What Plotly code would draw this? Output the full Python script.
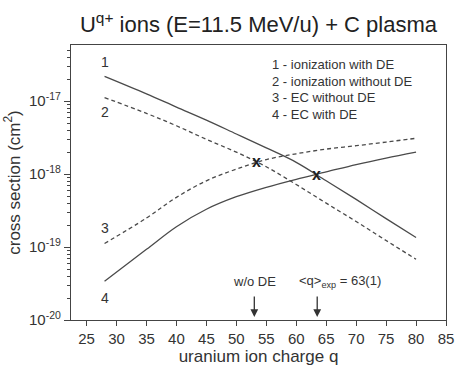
import math
import plotly.graph_objects as go

q = [28, 35, 40, 45, 50, 55, 60, 65, 70, 75, 80]
ion_with_de = [2.19e-17, 1.26e-17, 8.3e-18, 5.5e-18, 3.55e-18, 2.29e-18, 1.45e-18, 8.1e-19, 4.5e-19, 2.45e-19, 1.35e-19]
ion_without_de = [1.12e-17, 6.8e-18, 4.6e-18, 3.0e-18, 2.0e-18, 1.26e-18, 7.2e-19, 4.0e-19, 2.24e-19, 1.23e-19, 6.8e-20]
ec_without_de = [1.12e-19, 2.5e-19, 4.8e-19, 8.1e-19, 1.17e-18, 1.58e-18, 1.9e-18, 2.2e-18, 2.45e-18, 2.75e-18, 3.1e-18]
ec_with_de = [3.4e-20, 9.3e-20, 1.9e-19, 3.3e-19, 4.9e-19, 6.6e-19, 8.5e-19, 1.07e-18, 1.35e-18, 1.66e-18, 2.0e-18]

x_ticks = [25, 30, 35, 40, 45, 50, 55, 60, 65, 70, 75, 80, 85]
y_ticks = [1e-20, 1e-19, 1e-18, 1e-17]
y_ticktext = ["10<sup>-20</sup>", "10<sup>-19</sup>", "10<sup>-18</sup>", "10<sup>-17</sup>"]
legend_lines = ["1 - ionization with DE", "2 - ionization without DE", "3 - EC without DE", "4 - EC with DE"]
cross_points = [(53.3, 1.48e-18), (63.3, 1.0e-18)]
curve_labels = [("1", 28, 3.4e-17), ("2", 28, 7.1e-18), ("3", 28, 1.85e-19), ("4", 28, 2.0e-20)]
arrow_q = [53.0, 63.5]

LINE = "#4a4a4a"
TXT = "#333333"
FONT = "Liberation Sans, Arial, sans-serif"

fig = go.Figure()
for ys, dash in [(ion_with_de, "solid"), (ion_without_de, "4px,3px"),
                 (ec_without_de, "4px,3px"), (ec_with_de, "solid")]:
    fig.add_trace(go.Scatter(x=q, y=ys, mode="lines",
                             line=dict(color=LINE, width=1.3, dash=dash, shape="spline", smoothing=1.0),
                             showlegend=False, hoverinfo="skip"))

annotations = []
for i, t in enumerate(legend_lines):
    annotations.append(dict(x=0.53, y=0.93 - i * 0.061, xref="paper", yref="paper", text=t, showarrow=False,
                            xanchor="left", yanchor="middle", font=dict(size=13, color=TXT, family=FONT)))
for (cx, cy) in cross_points:
    annotations.append(dict(x=cx, y=math.log10(cy), xref="x", yref="y", text="<b>x</b>", showarrow=False,
                            xanchor="center", yanchor="middle", font=dict(size=16, color="#222", family=FONT)))
for (t, cx, cy) in curve_labels:
    annotations.append(dict(x=cx, y=math.log10(cy), xref="x", yref="y", text=t, showarrow=False,
                            xanchor="center", yanchor="middle", font=dict(size=14, color=TXT, family=FONT)))
for ax_q in arrow_q:
    annotations.append(dict(x=ax_q, y=0.011, xref="x", yref="paper", text="", showarrow=True, ax=0, ay=-22,
                            arrowhead=2, arrowsize=1.2, arrowwidth=1.3, arrowcolor="#333"))
annotations.append(dict(x=53.0, y=0.14, xref="x", yref="paper", text="w/o DE", showarrow=False,
                        xanchor="center", yanchor="middle", font=dict(size=13, color=TXT, family=FONT)))
annotations.append(dict(x=60.2, y=0.14, xref="x", yref="paper", text="&lt;q&gt;<sub>exp</sub> = 63(1)", showarrow=False,
                        xanchor="left", yanchor="middle", font=dict(size=13, color=TXT, family=FONT)))

fig.update_layout(
    width=466, height=374,
    margin=dict(l=71, r=14, t=45, b=49),
    paper_bgcolor="white", plot_bgcolor="white",
    title=dict(text="U<sup>q+</sup> ions (E=11.5 MeV/u) + C plasma", x=0.5, xref="paper", xanchor="center",
               y=0.935, yanchor="middle", font=dict(size=22, color="#222", family=FONT)),
    annotations=annotations,
    font=dict(family=FONT, color=TXT),
)
fig.update_xaxes(range=[22.4, 85], tickvals=x_ticks, ticks="outside", ticklen=5, tickcolor="#444",
                 showline=True, linecolor="#444", linewidth=1.3, mirror=True, showgrid=False, zeroline=False,
                 tickfont=dict(size=15, color=TXT),
                 title=dict(text="uranium ion charge q", font=dict(size=17, color=TXT), standoff=3))
fig.update_yaxes(type="log", range=[-20, -16.23], tickvals=y_ticks, ticktext=y_ticktext, ticks="outside", ticklen=6,
                 tickcolor="#444", showline=True, linecolor="#444", linewidth=1.3, mirror=True, showgrid=False,
                 zeroline=False,
                 minor=dict(ticks="outside", ticklen=3, tickcolor="#444", dtick="D1", showgrid=False),
                 tickfont=dict(size=15, color=TXT),
                 title=dict(text="cross section (cm<sup>2</sup>)", font=dict(size=17, color=TXT), standoff=4))

fig.write_html("out.html")
